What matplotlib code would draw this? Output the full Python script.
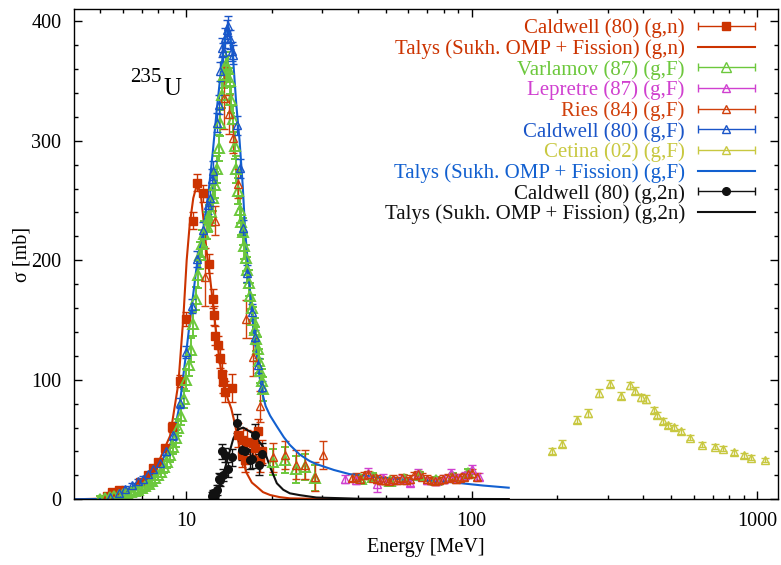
import numpy as np
import matplotlib
matplotlib.use('Agg')
import matplotlib.pyplot as plt
from matplotlib.container import ErrorbarContainer
from matplotlib.legend_handler import HandlerErrorbar
from matplotlib.ticker import MultipleLocator, FixedLocator, FixedFormatter, NullFormatter

plt.rcParams['font.family'] = ['Liberation Serif', 'DejaVu Serif']

# ---- data (E in MeV, sigma in mb) ----
# Caldwell (80) (g,n)
cgn_e = [5.28, 5.5, 5.8, 6.9, 7.38, 7.69, 8.0, 8.44, 8.9, 9.53, 10.0, 10.55, 10.95, 11.5,
         12.07, 12.4, 12.52, 12.63, 12.97, 13.15, 13.33, 13.5, 13.69, 14.45,
         15.24, 15.65, 15.86, 16.1, 16.3, 17.2, 17.4, 17.9, 18.1, 18.4]
cgn_s = [3, 5.8, 8, 14.7, 20.3, 26, 31, 42.6, 60.7, 99, 151, 233, 265, 256,
         197, 168, 154, 137, 129, 118, 105, 98, 90, 93,
         54, 37, 50, 33, 48, 47, 43, 57, 33, 40]
cgn_err = [2, 2, 2, 2, 2, 3, 3, 3, 4, 5, 6, 7, 7, 7,
           8, 8, 8, 8, 8, 8, 9, 9, 9, 12,
           10, 10, 10, 10, 10, 10, 10, 10, 10, 10]

# Talys (g,n)
tgn_e = [4.0, 5.0, 5.5, 6.2, 7.0, 7.9, 8.79, 9.4, 9.79, 10.05, 10.3, 10.6, 10.85, 11.04,
         11.3, 11.5, 11.8, 12.13, 12.46, 12.8, 13.15, 13.5, 14.05, 14.4, 14.83, 15.2,
         15.65, 16.3, 17.0, 17.7, 18.6, 19.7, 21.3, 23.1, 30, 60, 135]
tgn_s = [0, 0.5, 2, 8, 15, 28, 53, 97, 153, 200, 230, 252, 261, 262,
         252, 235, 208, 186, 161, 136, 114, 97, 83, 76, 63, 50,
         36, 22, 14, 10.5, 6, 3.6, 1.8, 0.8, 0.3, 0.1, 0]

# Varlamov (87) (g,F)
var_e = [5.0, 5.2, 5.4, 5.6, 5.8, 6.0, 6.2, 6.4, 6.6, 6.8, 7.0, 7.2, 7.4, 7.6, 7.8,
         8.0, 8.2, 8.4, 8.6, 8.8, 9.0, 9.2, 9.4, 9.6, 9.8, 10.0, 10.2, 10.4, 10.6, 10.8,
         11.0, 11.2, 11.4, 11.6, 11.8, 12.0, 12.2, 12.4, 12.6, 12.8, 13.0, 13.2, 13.4,
         13.6, 13.8, 14.0, 14.2, 14.4, 14.6, 14.8, 15.0, 15.2, 15.4, 15.6, 15.8, 16.0,
         16.2, 16.4, 16.6, 16.8, 17.0, 17.2, 17.4, 17.6, 17.8, 18.0, 18.2, 18.4, 18.6,
         20.2, 22.2, 24.3, 26.0, 28.3, 41, 45, 52, 58, 66, 75, 86, 97]
var_s = [0.5, 1, 1.8, 2.5, 3.3, 4.2, 5, 6, 7, 8.2, 9.5, 11, 13, 15, 17.5,
         20, 23, 27, 31, 37, 44, 51, 60, 70, 84, 100, 112, 125, 147, 168,
         188, 204, 214, 222, 229, 235, 240, 252, 263, 276, 294, 315, 338,
         355, 363, 360, 350, 334, 318, 296, 276, 258, 242, 232, 224, 212,
         202, 192, 181, 170, 160, 150, 142, 134, 126, 116, 107, 99, 92,
         31, 33, 25, 27, 18, 17, 19, 15, 17, 20, 16, 19, 22]
var_err = [2, 2, 2, 2, 2, 2, 2, 2, 3, 3, 3, 3, 3, 3, 4,
           4, 4, 5, 5, 6, 6, 7, 7, 8, 8, 9, 9, 10, 10, 10,
           11, 11, 11, 11, 11, 11, 11, 11, 11, 11, 11, 11, 11,
           11, 11, 11, 11, 11, 11, 11, 11, 11, 11, 11, 11, 11,
           11, 11, 11, 11, 11, 11, 10, 10, 10, 10, 10, 10, 10,
           11, 11, 11, 11, 11, 3, 3, 3, 3, 3, 3, 3, 3]

# Lepretre (87) (g,F)
lep_e = [36, 39.5, 43.5, 46.5, 49, 53, 57, 61, 65, 70, 75, 80, 84.5, 90, 95, 100.5, 106]
lep_s = [17, 16, 22, 12.5, 18, 16, 17, 14, 22, 16, 15, 17, 22, 18, 20, 25, 19]
lep_err = [3, 3, 4, 6, 3, 3, 3, 3, 3, 3, 3, 3, 3, 3, 3, 4, 3]

# Ries (84) (g,F)
ries_e = [11.66, 12.63, 13.6, 14.14, 14.65, 15.17, 16.2, 17.14, 18.1, 20.2, 22.2, 24.3,
          26.0, 28.3, 30.2, 38.1, 39.5, 40.6, 42, 43.5, 45, 46.5, 48, 49.8, 51.5, 53.2,
          55, 56.9, 59, 60.9, 63, 65.1, 67, 69.6, 72, 74.5, 77, 79.7, 82.5, 85.2, 88,
          91.1, 94, 97.5, 100.5, 104.2]
ries_s = [186, 233, 336, 322, 302, 264, 151, 119, 78, 35, 37, 29,
          29, 19, 37, 18, 19, 17, 20, 21, 18, 17, 16, 16, 15, 17,
          16, 18, 16, 17, 20, 21, 19, 17, 16, 15, 16, 17, 18, 19, 17,
          18, 19, 21, 22, 19]
ries_err = [24, 12, 26, 16, 12, 12, 16, 16, 13, 12, 12, 12,
            12, 12, 12, 3, 3, 3, 3, 3, 3, 3, 3, 3, 3, 3,
            3, 3, 3, 3, 3, 3, 3, 3, 3, 3, 3, 3, 3, 3, 3,
            3, 3, 3, 3, 3]

# Caldwell (80) (g,F)
cgf_e = [5.42, 5.8, 6.12, 6.46, 6.81, 7.09, 7.38, 7.69, 8.11, 8.51, 9.03, 9.53, 10.0,
         10.47, 10.9, 11.5, 11.97, 12.13, 12.3, 12.46, 12.87, 13.0, 13.15, 13.33, 13.5,
         13.7, 13.9, 14.05, 14.25, 14.45, 14.57, 15.05, 15.43, 15.86, 16.4, 16.96, 17.4,
         17.9, 18.4]
cgf_s = [2.2, 5, 8.9, 11.7, 15.3, 17.2, 20.8, 25, 30.5, 40, 54, 80.6, 123.6,
         162, 201, 225, 246, 252, 268, 275, 315, 330, 358, 378, 374,
         386, 393, 396, 385, 375, 372, 313, 277, 227, 189, 157, 136,
         112, 94]
cgf_err = [2, 2, 2, 2, 2, 2, 2, 3, 3, 3, 4, 4, 5,
           6, 7, 7, 7, 7, 8, 8, 8, 8, 8, 8, 8,
           8, 8, 8, 8, 8, 8, 8, 8, 7, 7, 6, 6,
           6, 5]

# Cetina (02) (g,F)
cet_e = [192, 207.6, 234, 256.5, 280.3, 306, 333.7, 358.7, 373.5, 392.9, 410, 436.4,
         448, 469, 488.3, 512.6, 541, 582, 644, 711, 760, 831, 901, 955, 1066]
cet_s = [40.3, 46.4, 66.7, 72.2, 88.9, 96.7, 86.7, 95.3, 91, 85.3, 83.9, 74.4,
         70.8, 65.8, 61.9, 60.3, 56.9, 51.4, 45.8, 43.9, 42.2, 39.4, 36.9, 34.7, 32.8]
cet_err = [2.5, 3, 3, 3, 3, 3, 3, 3, 3, 3, 3, 2.5,
           2.5, 2.5, 2, 2, 2, 2, 2, 2, 2, 2, 2, 2, 2]

# Talys (g,F)
tgf_e = [4.0, 5.1, 5.5, 6.2, 7.0, 7.5, 8.1, 8.6, 9.0, 9.5, 10.0, 10.5, 11.0, 11.5, 12.0,
         12.4, 12.8, 13.2, 13.5, 13.8, 14.0, 14.2, 14.6, 15.0, 15.4, 15.8, 16.1, 16.5,
         17.0, 17.5, 18.1, 18.5, 19.0, 19.7, 20.8, 22.0, 23.1, 25.0, 27.1, 28.6, 33,
         37.5, 43, 48.9, 60, 83.5, 110, 135]
tgf_s = [0, 0.3, 2, 8, 15, 20, 30, 40, 52, 79, 122, 164, 203, 226, 258,
         290, 325, 355, 375, 392, 397, 392, 370, 330, 300, 262, 225, 195,
         155, 128, 102, 89, 78, 70, 61, 52, 45.5, 37.5, 32, 29.5, 24.5,
         21, 19.5, 18, 16.5, 14.5, 11.5, 9.7]

# Caldwell (80) (g,2n)
c2n_e = [12.3, 12.46, 12.63, 12.8, 13.08, 13.15, 13.33, 13.5, 13.69, 14.05, 14.45,
         15.04, 15.65, 16.1, 16.74, 16.96, 17.4, 18.06, 18.5]
c2n_s = [3, 5, 4, 8, 17, 16, 40, 20, 37, 25, 35,
         63.5, 41, 40, 33, 34, 53.7, 29, 38]
c2n_err = [3, 3, 3, 4, 5, 5, 6, 5, 6, 6, 7,
           8, 8, 8, 8, 8, 9, 9, 9]

# Talys (g,2n)
t2n_e = [12.6, 13.0, 13.33, 14.05, 14.65, 15.24, 15.86, 17.2, 18.6, 19.7, 20.8, 21.9,
         23.1, 25, 28.6, 40, 135]
t2n_s = [0, 6, 16, 35.6, 51, 58.5, 60, 55, 44, 27, 13.4, 8,
         5, 3.5, 1.5, 0.5, 0.2]

labels = ['Caldwell (80) (g,n)',
          'Talys (Sukh. OMP + Fission) (g,n)',
          'Varlamov (87) (g,F)',
          'Lepretre (87) (g,F)',
          'Ries (84) (g,F)',
          'Caldwell (80) (g,F)',
          'Cetina (02) (g,F)',
          'Talys (Sukh. OMP + Fission) (g,F)',
          'Caldwell (80) (g,2n)',
          'Talys (Sukh. OMP + Fission) (g,2n)']

c_red = '#cc3300'
c_ries = '#d0400c'
c_green = '#6cc83c'
c_mag = '#d040d0'
c_blue = '#1a55c8'
c_yel = '#c8c840'
c_tblue = '#1260d0'
c_blk = '#111111'

fig = plt.figure(figsize=(7.81, 5.65), dpi=100)
ax = fig.add_axes([74 / 781, 65.7 / 565, 704 / 781, 490 / 565])

handles = []


def points(e, s, err, fmt, col, label, ms=6, filled=False, lw=1):
    mfc = col if filled else 'none'
    ax.errorbar(e, s, yerr=err, fmt=fmt, color=col, ecolor=col, mec=col, mfc=mfc,
                ms=ms, mew=lw, elinewidth=lw, capsize=3, capthick=lw)
    h = ax.errorbar([np.nan], [np.nan], xerr=[1], fmt=fmt, color=col, ecolor=col,
                    mec=col, mfc=mfc, ms=ms, mew=1, elinewidth=1, capsize=3,
                    capthick=1, label=label)
    handles.append(h)


def curve(e, s, col, label):
    h, = ax.plot(e, s, '-', color=col, lw=1.5, label=label)
    handles.append(h)


points(cgn_e, cgn_s, cgn_err, 's', c_red, labels[0], ms=6, filled=True)
curve(tgn_e, tgn_s, c_red, labels[1])
points(var_e, var_s, var_err, '^', c_green, labels[2], ms=7, lw=1.4)
points(lep_e, lep_s, lep_err, '^', c_mag, labels[3])
points(ries_e, ries_s, ries_err, '^', c_ries, labels[4])
points(cgf_e, cgf_s, cgf_err, '^', c_blue, labels[5])
points(cet_e, cet_s, cet_err, '^', c_yel, labels[6])
curve(tgf_e, tgf_s, c_tblue, labels[7])
points(c2n_e, c2n_s, c2n_err, 'o', c_blk, labels[8], ms=5.5, filled=True)
curve(t2n_e, t2n_s, c_blk, labels[9])

ax.set_xscale('log')
ax.set_xlim(4.05, 1185)
ax.set_ylim(0, 410)
ax.xaxis.set_major_locator(FixedLocator([10, 100, 1000]))
ax.xaxis.set_major_formatter(FixedFormatter(['10', '100', '1000']))
ax.xaxis.set_minor_formatter(NullFormatter())
ax.yaxis.set_major_locator(MultipleLocator(100))
ax.yaxis.set_minor_locator(MultipleLocator(20))
ax.tick_params(which='both', direction='in', top=True, right=True, width=1)
ax.tick_params(which='major', length=6, labelsize=14.5, pad=9)
ax.tick_params(which='minor', length=3)
for sp in ax.spines.values():
    sp.set_linewidth(1)

ax.set_xlabel('Energy [MeV]', fontsize=14.5, labelpad=5)
ax.set_ylabel('σ [mb]', fontsize=14.5, labelpad=0)

ax.text((130 - 74) / 704, (499.3 - 81.7) / 490, '235', fontsize=15,
        transform=ax.transAxes, ha='left', va='baseline')
ax.text((163 - 74) / 704, (499.3 - 95) / 490, 'U', fontsize=18,
        transform=ax.transAxes, ha='left', va='baseline')

leg = ax.legend(handles=handles, loc='upper right', bbox_to_anchor=(0.967, 0.981),
                frameon=False, markerfirst=False, fontsize=15, borderpad=0,
                borderaxespad=0, handlelength=2.74, handletextpad=0.62,
                labelspacing=0.045, numpoints=1,
                handler_map={ErrorbarContainer: HandlerErrorbar(xerr_size=1.37)})
text_cols = [c_red, c_red, c_green, c_mag, c_ries, c_blue, c_yel, c_tblue, c_blk, c_blk]
for t, c in zip(leg.get_texts(), text_cols):
    t.set_color(c)

fig.savefig('out.png', dpi=100)
